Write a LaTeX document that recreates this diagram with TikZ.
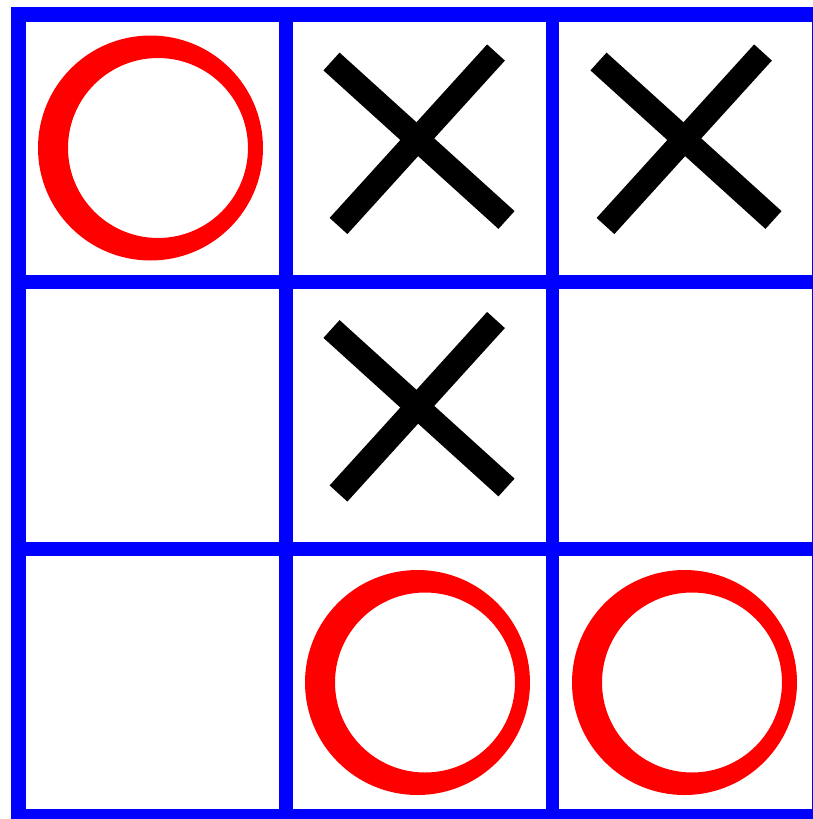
\documentclass[tikz,border=0pt]{standalone}
\begin{document}
\begin{tikzpicture}[x=1pt,y=-1pt,
  gridline/.style={draw=blue, line width=13.5pt},
  frameline/.style={draw=blue, line width=15pt},
  pics/xmark/.style={code={
    \draw[black, line width=24pt, line cap=butt] (-87.5,-86.5) -- (87.5,72);
    \draw[black, line width=24pt, line cap=butt] (77,-95.5) -- (-80.5,78);
  }},
  pics/omark/.style={code={
    \fill[red, even odd rule] (-1.5,0) circle[radius=112.5pt] (6,0) circle[radius=90pt];
  }}]
\useasboundingbox (0,0) rectangle (813,819);
\fill[white] (0,0) rectangle (813,819);
% grid
\draw[gridline] (286,14.5) -- (286,816.5);
\draw[gridline] (552.5,14.5) -- (552.5,816.5);
\draw[gridline] (18,282) -- (819.5,282);
\draw[gridline] (18,549) -- (819.5,549);
\draw[frameline] (18,14.5) rectangle (819.5,816.5);
% marks
\pic at (152,148) {omark};
\pic at (419,148) {xmark};
\pic at (686,148) {xmark};
\pic at (419,415.5) {xmark};
\pic at (419,682.5) {omark};
\pic at (686,682.5) {omark};
\end{tikzpicture}
\end{document}
